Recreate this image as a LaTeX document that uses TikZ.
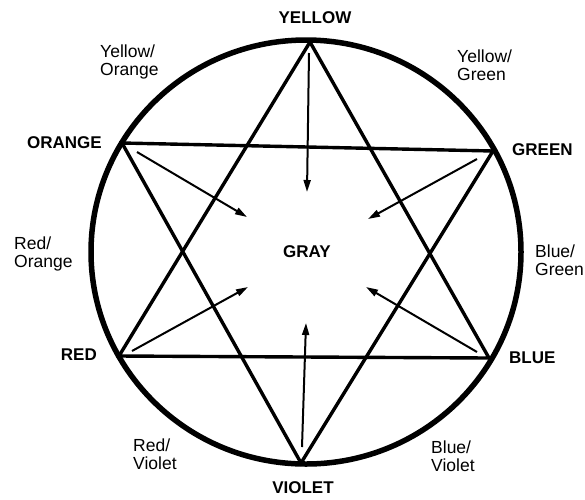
\documentclass[tikz,border=0pt]{standalone}
\usepackage{fontspec}
\setmainfont{Liberation Sans}
\usetikzlibrary{arrows.meta}
\begin{document}
\begin{tikzpicture}[x=1pt,y=-1pt,
  wheel/.style={line width=5.5pt},
  star/.style={line width=3.4pt, line join=miter, miter limit=20},
  mix/.style={line width=2pt, -{Triangle[length=12pt,width=7pt]}},
  primary/.style={font=\bfseries\fontsize{17}{18}\selectfont, inner sep=0pt},
  secondary/.style={font=\fontsize{17.5}{18}\selectfont, align=left, inner sep=0pt}]
\useasboundingbox (0,0) rectangle (585,499);
\fill[white] (0,0) rectangle (585,499);
% colour wheel
\draw[wheel] (306,252) ellipse [x radius=215, y radius=212];
% vertices
\coordinate (Y) at (310,42);
\coordinate (O) at (122,143);
\coordinate (G) at (493,151);
\coordinate (R) at (119,356);
\coordinate (B) at (489,358);
\coordinate (V) at (301,463);
% star
\draw[star] (Y) -- (R) -- (B) -- cycle;
\draw[star] (O) -- (G) -- (V) -- cycle;
% arrows towards gray
\coordinate (ys) at (309,53);  \coordinate (ye) at (307,192);
\coordinate (os) at (137,152); \coordinate (oe) at (247,217);
\coordinate (gs) at (477,159); \coordinate (ge) at (368,219);
\coordinate (rs) at (132,351); \coordinate (re) at (248,287);
\coordinate (bs) at (477,352); \coordinate (be) at (366,287);
\coordinate (vs) at (302,447); \coordinate (ve) at (306,323);
\draw[mix] (ys) -- (ye);
\draw[mix] (os) -- (oe);
\draw[mix] (gs) -- (ge);
\draw[mix] (rs) -- (re);
\draw[mix] (bs) -- (be);
\draw[mix] (vs) -- (ve);
% primary labels
\node[primary] (lyellow) at (315,18) {YELLOW};
\node[primary] (lviolet) at (303,488) {VIOLET};
\node[primary, anchor=east] (lorange) at (102,143) {ORANGE};
\node[primary, anchor=west] (lgreen) at (512,150) {GREEN};
\node[primary, anchor=east] (lred) at (97,355) {RED};
\node[primary, anchor=west] (lblue) at (509,358) {BLUE};
\node[primary] (lgray) at (307,252) {GRAY};
% secondary labels
\node[secondary, anchor=west] (lyo) at (100,62) {Yellow/\\Orange};
\node[secondary, anchor=west] (lyg) at (457,65) {Yellow/\\Green};
\node[secondary, anchor=west] (lro) at (14,254) {Red/\\Orange};
\node[secondary, anchor=west] (lbg) at (535,260) {Blue/\\Green};
\node[secondary, anchor=west] (lrv) at (133,454) {Red/\\Violet};
\node[secondary, anchor=west] (lbv) at (431,456) {Blue/\\Violet};
\end{tikzpicture}
\end{document}
